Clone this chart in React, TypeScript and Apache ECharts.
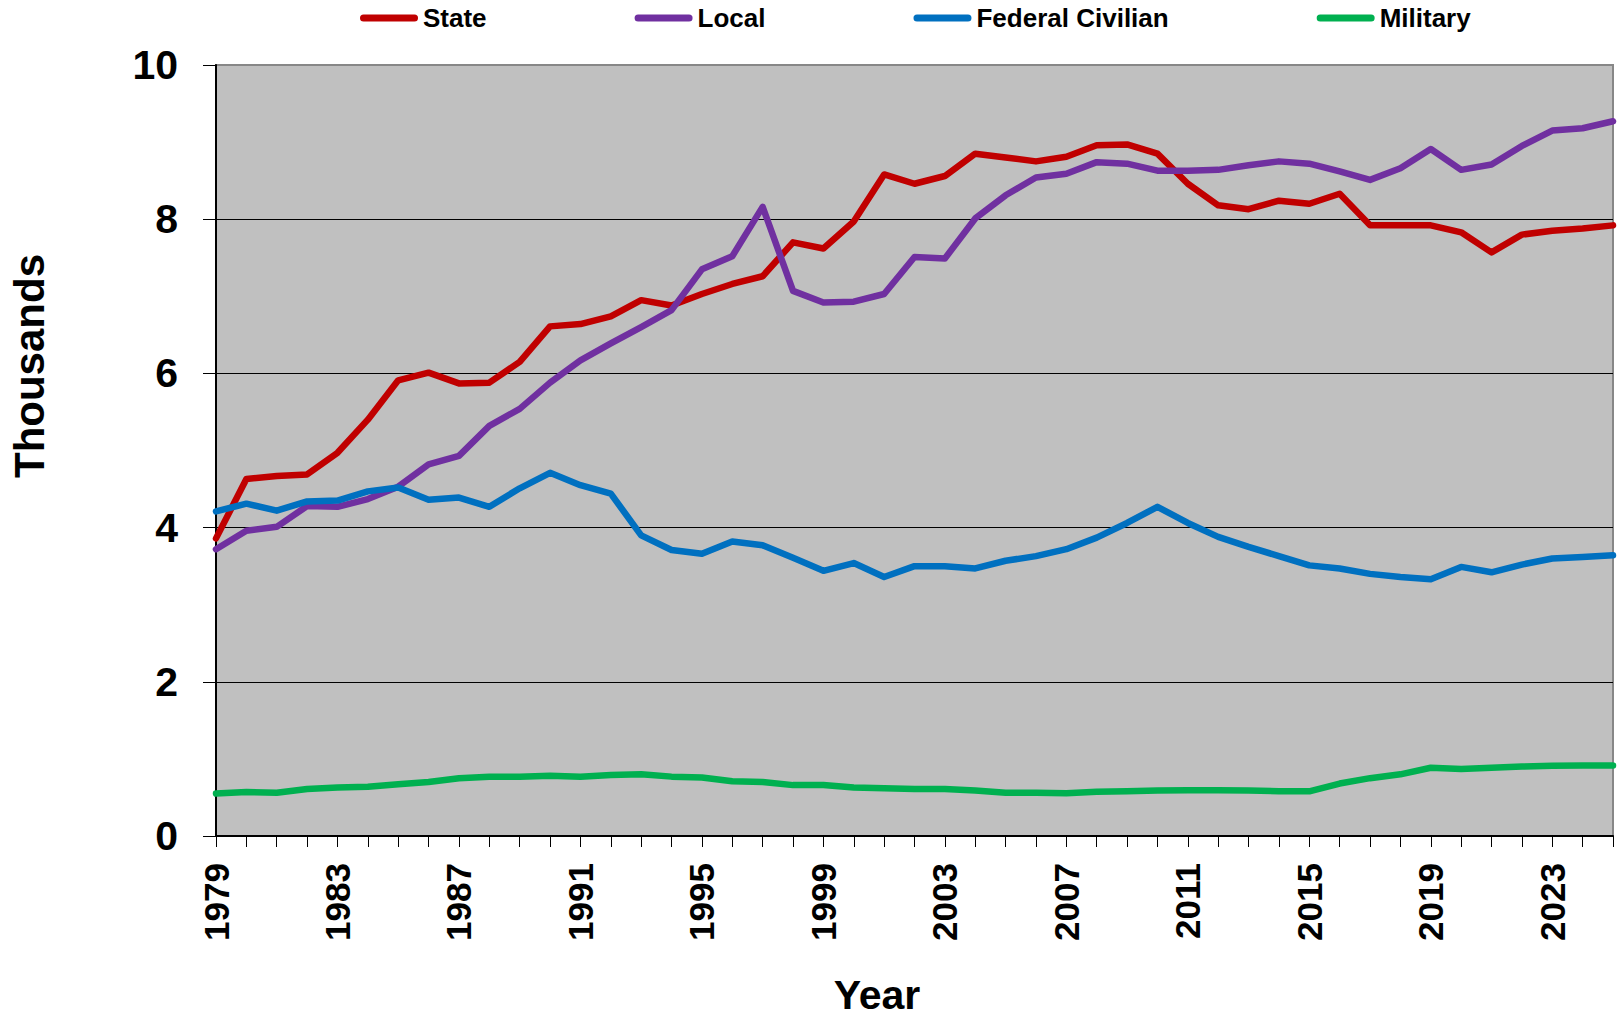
import React, { useEffect, useRef } from "react";
import * as echarts from "echarts";

const years: string[] = [];
for (let y = 1979; y <= 2025; y++) years.push(String(y));

const stateVals = [
  3.86, 4.63, 4.67, 4.69, 4.97, 5.40, 5.91, 6.01, 5.87, 5.88,
  6.15, 6.61, 6.64, 6.74, 6.95, 6.88, 7.03, 7.16, 7.26, 7.70,
  7.62, 7.97, 8.58, 8.46, 8.56, 8.85, 8.80, 8.75, 8.81, 8.96,
  8.97, 8.85, 8.46, 8.18, 8.13, 8.24, 8.20, 8.33, 7.92, 7.92,
  7.92, 7.83, 7.57, 7.80, 7.85, 7.88, 7.92,
];
const localVals = [
  3.72, 3.96, 4.01, 4.28, 4.27, 4.37, 4.53, 4.82, 4.93, 5.32,
  5.54, 5.88, 6.17, 6.39, 6.60, 6.82, 7.35, 7.52, 8.16, 7.07,
  6.92, 6.93, 7.03, 7.51, 7.49, 8.01, 8.31, 8.54, 8.59, 8.74,
  8.72, 8.63, 8.63, 8.64, 8.70, 8.75, 8.72, 8.62, 8.51, 8.66,
  8.91, 8.64, 8.71, 8.95, 9.15, 9.18, 9.27,
];
const federalVals = [
  4.21, 4.31, 4.22, 4.34, 4.35, 4.47, 4.52, 4.36, 4.39, 4.27,
  4.51, 4.71, 4.55, 4.44, 3.90, 3.71, 3.66, 3.82, 3.77, 3.61,
  3.44, 3.54, 3.36, 3.50, 3.50, 3.47, 3.57, 3.63, 3.72, 3.87,
  4.06, 4.27, 4.06, 3.88, 3.75, 3.63, 3.51, 3.47, 3.40, 3.36,
  3.33, 3.49, 3.42, 3.52, 3.60, 3.62, 3.64,
];
const militaryVals = [
  0.55, 0.57, 0.56, 0.61, 0.63, 0.64, 0.67, 0.70, 0.75, 0.77,
  0.77, 0.78, 0.77, 0.79, 0.80, 0.77, 0.76, 0.71, 0.70, 0.66,
  0.66, 0.63, 0.62, 0.61, 0.61, 0.59, 0.56, 0.56, 0.555, 0.575,
  0.58, 0.59, 0.595, 0.595, 0.59, 0.58, 0.58, 0.68, 0.75, 0.80,
  0.885, 0.87, 0.885, 0.90, 0.91, 0.915, 0.915,
];

const seriesNames = ["State", "Local", "Federal Civilian", "Military"];
const seriesColors = ["#C00000", "#7030A0", "#0070C0", "#00B050"];
const seriesData = [stateVals, localVals, federalVals, militaryVals];

const FONT = '"Liberation Sans", Arial, Helvetica, sans-serif';
const capsule = "path://M3.5,0 H54.5 A3.5,3.5 0 0 1 54.5,7 H3.5 A3.5,3.5 0 0 1 3.5,0 Z";

export default function App() {
  const ref = useRef<HTMLDivElement>(null);
  useEffect(() => {
    if (!ref.current) return;
    const chart = echarts.init(ref.current, null, { renderer: "svg" });
    chart.setOption({
      animation: false,
      backgroundColor: "#ffffff",
      legend: {
        left: 355,
        top: 0,
        itemGap: 148,
        itemWidth: 58,
        itemHeight: 7,
        icon: capsule,
        data: seriesNames,
        textStyle: { fontFamily: FONT, fontWeight: "bold", fontSize: 26, color: "#000" },
      },
      grid: {
        left: 216,
        top: 65,
        right: 6,
        bottom: 185,
        show: true,
        backgroundColor: "#c0c0c0",
        borderColor: "#878787",
        borderWidth: 2,
      },
      xAxis: {
        type: "category",
        data: years,
        boundaryGap: false,
        axisLine: { show: true, lineStyle: { color: "#000", width: 2 } },
        axisTick: { show: true, interval: 0, length: 11, lineStyle: { color: "#000", width: 1 } },
        axisLabel: {
          interval: 3,
          rotate: 90,
          margin: 27,
          fontFamily: FONT,
          fontWeight: "bold",
          fontSize: 35,
          color: "#000",
        },
        splitLine: { show: false },
      },
      yAxis: {
        type: "value",
        min: 0,
        max: 10,
        interval: 2,
        axisLine: { show: true, lineStyle: { color: "#000", width: 2 } },
        axisTick: { show: true, length: 13, lineStyle: { color: "#000", width: 1 } },
        axisLabel: {
          margin: 38,
          fontFamily: FONT,
          fontWeight: "bold",
          fontSize: 41,
          color: "#000",
        },
        splitLine: {
          show: true,
          lineStyle: { color: ["#000", "#000", "#000", "#000", "#000", "#878787"], width: 1 },
        },
      },
      graphic: [
        {
          type: "text",
          x: 29,
          y: 366,
          rotation: Math.PI / 2,
          style: {
            text: "Thousands",
            font: `bold 42px ${FONT}`,
            fill: "#000",
            align: "center",
            verticalAlign: "middle",
          },
        },
        {
          type: "text",
          x: 877,
          y: 995,
          style: {
            text: "Year",
            font: `bold 41px ${FONT}`,
            fill: "#000",
            align: "center",
            verticalAlign: "middle",
          },
        },
      ],
      series: seriesNames.map((name, i) => ({
        name,
        type: "line",
        data: seriesData[i],
        symbol: "none",
        showSymbol: false,
        color: seriesColors[i],
        lineStyle: { width: 6.5, color: seriesColors[i], cap: "round", join: "round" },
        z: 2 + i,
      })),
    });
    return () => chart.dispose();
  }, []);
  return (
    <div
      ref={ref}
      style={{ position: "absolute", left: 0, top: 0, width: 1619, height: 1021 }}
    />
  );
}
